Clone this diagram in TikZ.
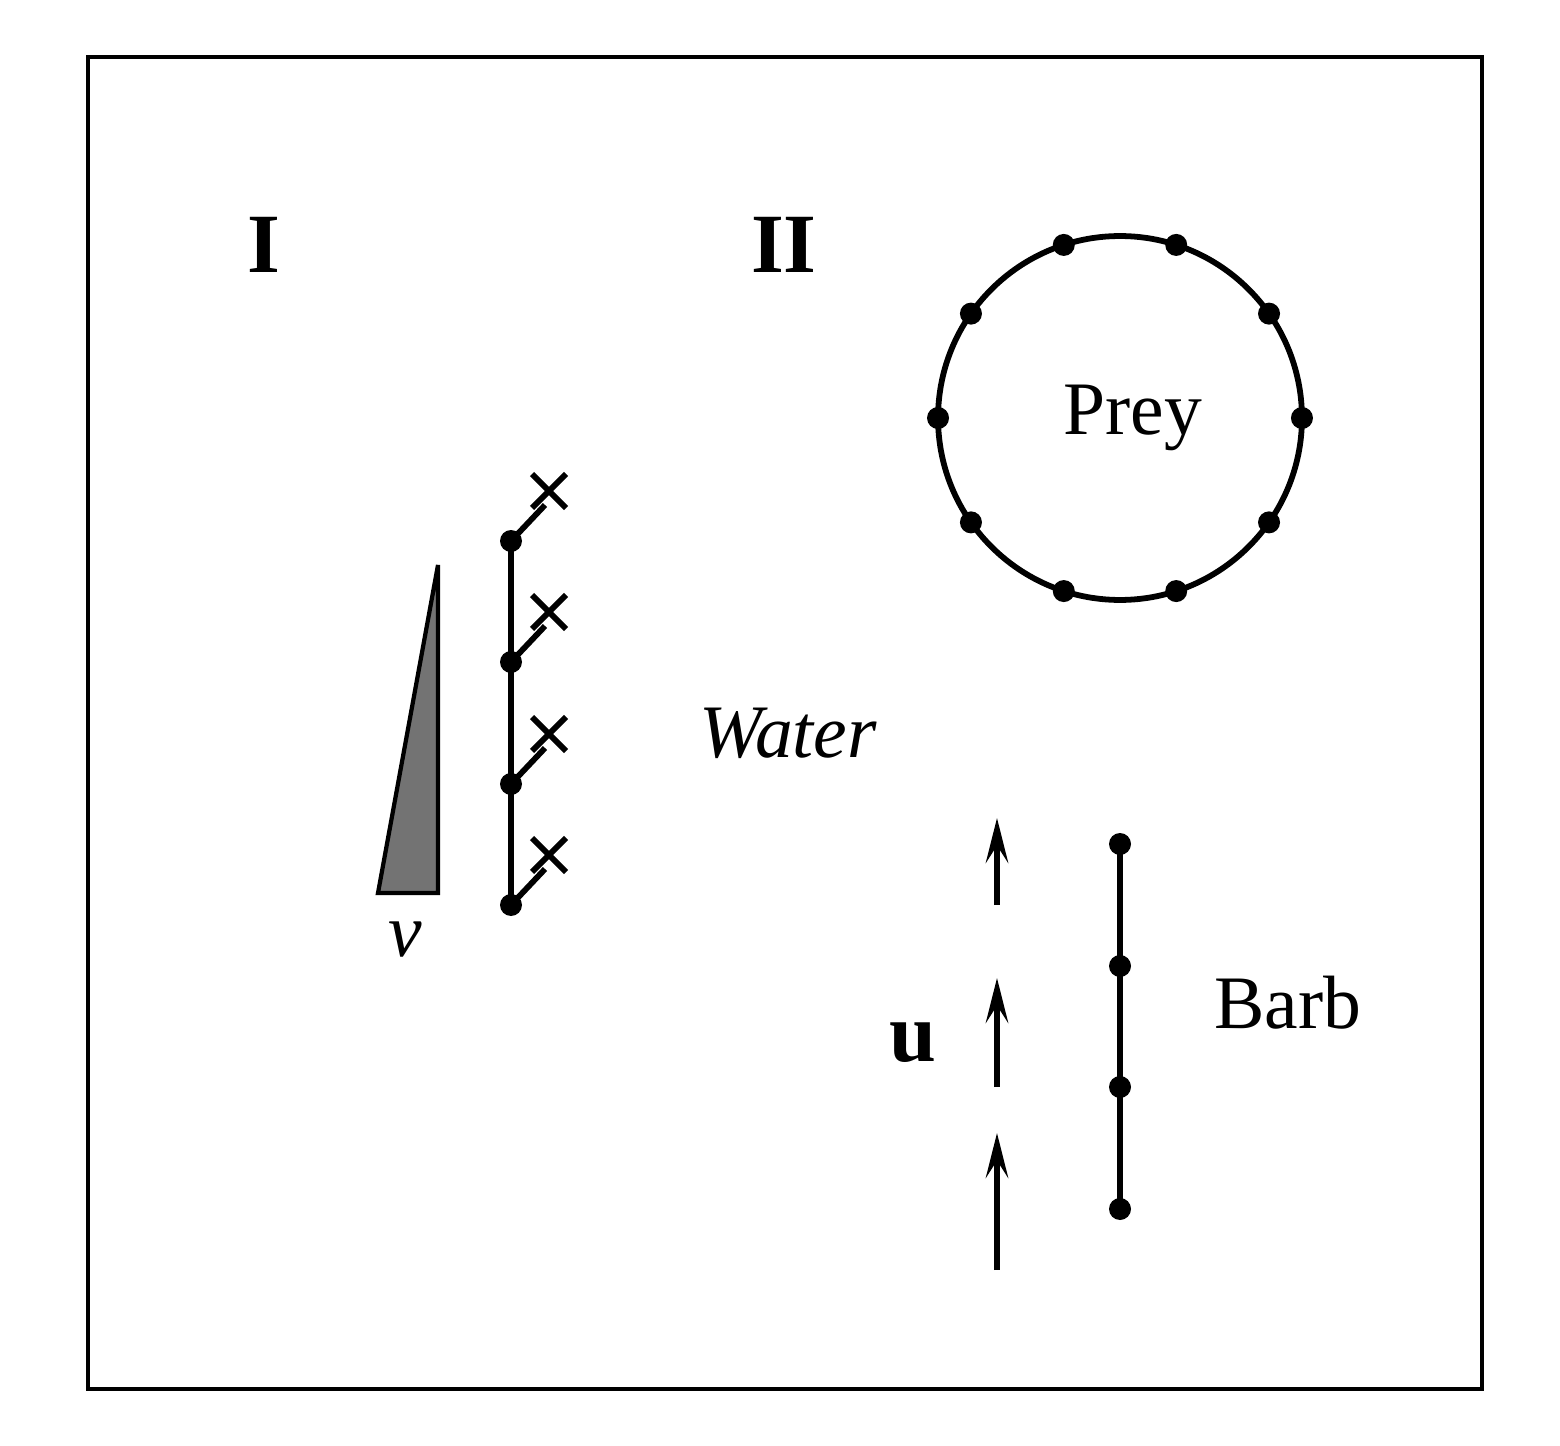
\documentclass[tikz,border=0pt]{standalone}
\usepackage{fontspec}
\setmainfont{Liberation Serif}
\usetikzlibrary{arrows.meta}
\begin{document}
\begin{tikzpicture}[x=0.02cm,y=-0.02cm,line width=3.3pt,
  dot/.style={circle,fill=black,inner sep=0pt,minimum size=0.44cm},
  lbl/.style={font=\fontsize{43}{45}\selectfont},
  big/.style={font=\fontsize{48}{50}\selectfont\bfseries}]
\useasboundingbox (0,0) rectangle (1560,1446);
\draw[line width=1.8pt] (88,57) rectangle (1482,1389);
\node[big] (t1) at (264,245) {I};
\node[big] (t2) at (784,245) {II};
% prey
\coordinate (pc) at (1120,418);
\draw (pc) circle (3.64cm);
\foreach \a in {0,35,72,108,145,180,215,252,288,325}
  \node[dot] at ([shift={(\a:3.64cm)}]pc) {};
\node[lbl] (prey) at (1133,418) {Prey};
% barb
\foreach \y/\n in {844/b1,966/b2,1087/b3,1209/b4} \node[dot] (\n) at (1120,\y) {};
\draw (b1.center) -- (b4.center);
\node[lbl] (barb) at (1288,1003) {Barb};
% arrows
\foreach \s/\e in {905/818,1087/978,1270/1133}
  \draw[-{Stealth[length=0.9cm,width=0.45cm,inset=0.35cm]}] (997,\s) -- (997,\e);
\node[big] (u) at (913,1043) {u};
\node[font=\fontsize{43}{45}\selectfont\itshape] (water) at (788,733) {Water};
% chain
\foreach \y/\n/\xy in {541/c1/491,662/c2/612,784/c3/734,905/c4/855}{
  \node[dot] (\n) at (511,\y) {};
  \draw (\n.center) -- (545,\xy+14);
  \draw (532,\xy-17) -- (566,\xy+17) (532,\xy+17) -- (566,\xy-17);
}
\draw (c1.center) -- (c4.center);
\draw[fill=gray!90!black,line width=2.4pt] (378,893) -- (438,893) -- (438,565) -- cycle;
\node[font=\fontsize{43}{45}\selectfont\itshape] (v) at (405,940) {v};
\end{tikzpicture}
\end{document}
